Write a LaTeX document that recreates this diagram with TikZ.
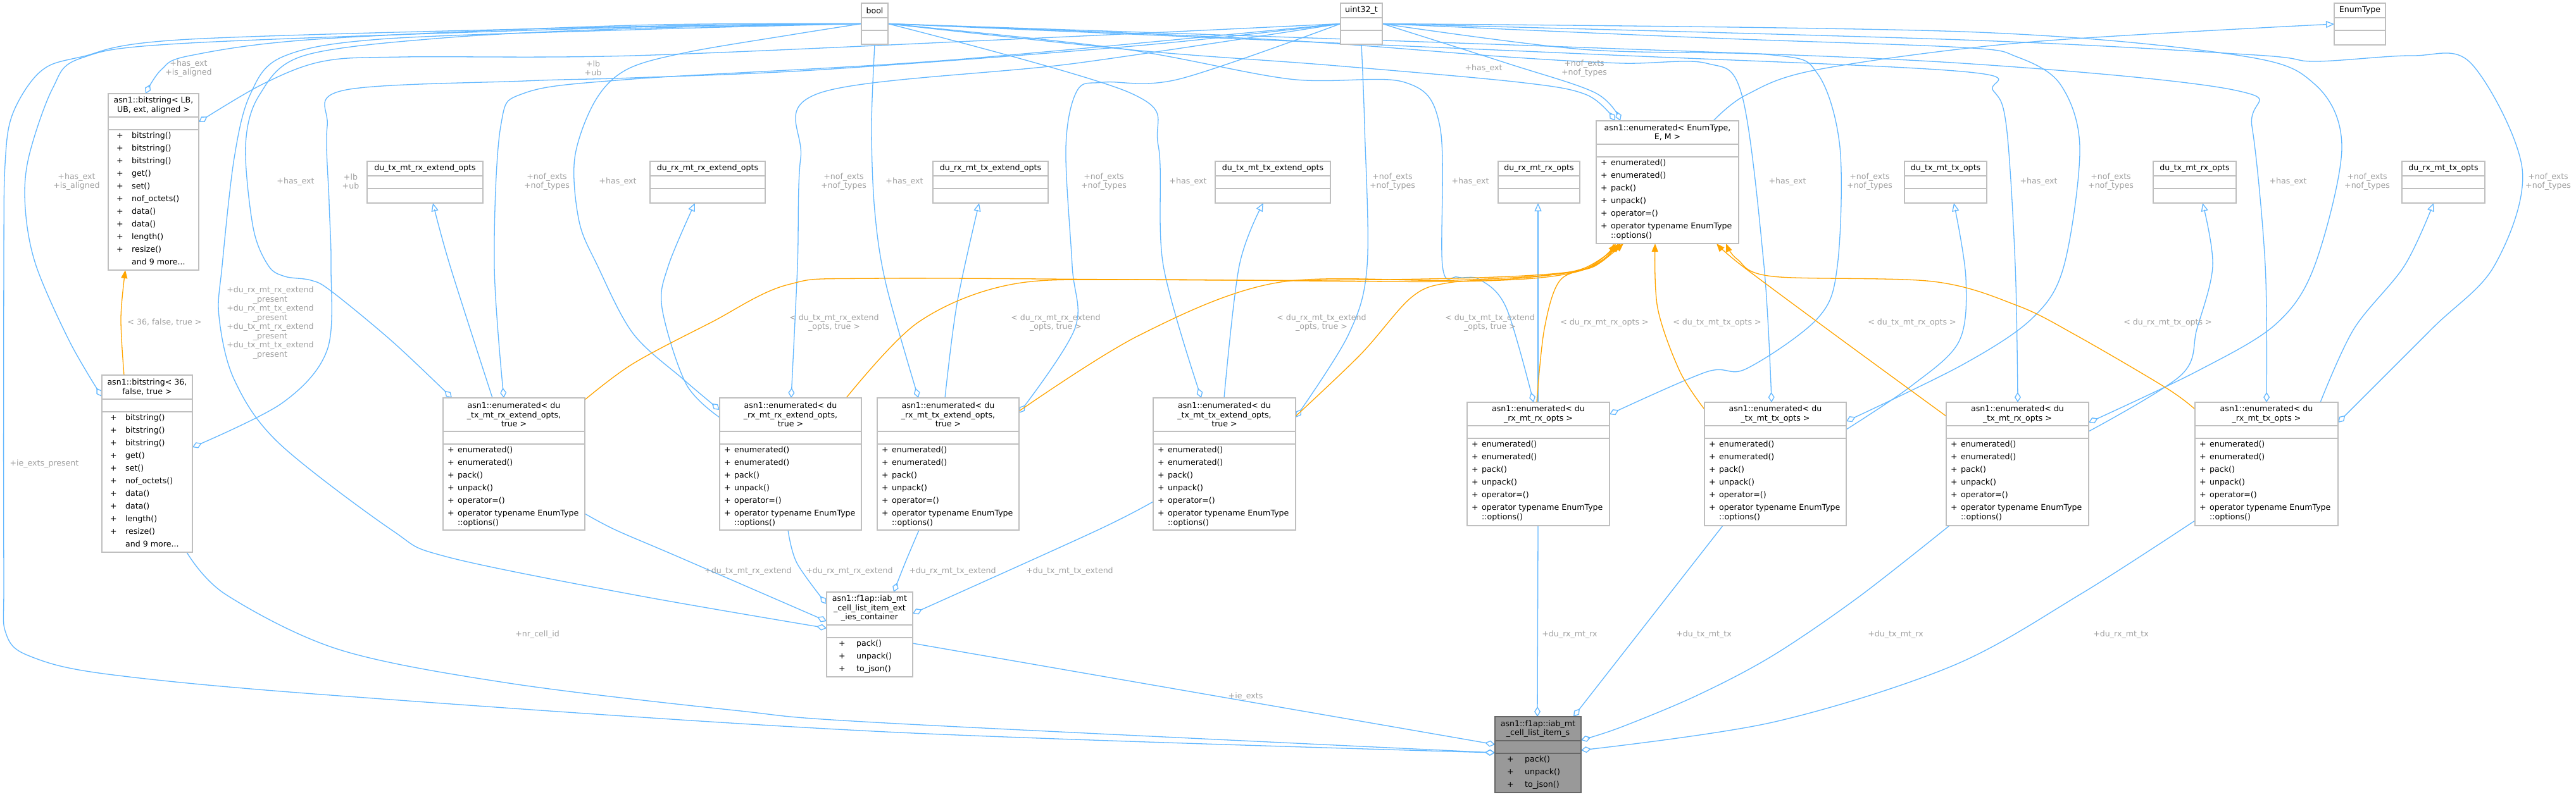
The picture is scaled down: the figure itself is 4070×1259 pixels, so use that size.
\documentclass[tikz,border=0pt]{standalone}
\usepackage{fontspec}
\setmainfont{DejaVu Sans}
\usetikzlibrary{arrows.meta,calc}
\definecolor{eblue}{HTML}{63B8FF}
\definecolor{eorange}{HTML}{FFA500}
\definecolor{lgray}{HTML}{A0A0A0}
\definecolor{bgray}{HTML}{BFBFBF}
\definecolor{dgray}{HTML}{666666}
\definecolor{ngray}{HTML}{999999}
\pgfdeclarelayer{bg}
\pgfsetlayers{bg,main}
\tikzset{
 nbox/.style={draw=bgray, fill=white, line width=1.3pt, inner sep=0pt, outer sep=0pt, rectangle},
 nline/.style={draw=bgray, line width=1.3pt},
 dbox/.style={draw=dgray, fill=ngray, line width=1.3pt, inner sep=0pt, outer sep=0pt, rectangle},
 dline/.style={draw=dgray, line width=1.3pt},
 ttl/.style={align=center, inner sep=0pt, font=\fontsize{12.6pt}{14.5pt}\selectfont},
 mem/.style={align=left, inner sep=0pt, font=\fontsize{12.6pt}{20pt}\selectfont},
 agg/.style={draw=eblue, line width=1.3pt, line join=round, -{Diamond[open, length=16pt, width=10pt]}},
 inh/.style={draw=eblue, line width=1.3pt, line join=round, -{Triangle[open, length=13pt, width=11pt]}},
 tpl/.style={draw=eorange, line width=1.3pt, line join=round, -{Triangle[length=13pt, width=10pt]}},
 lbl/.style={text=lgray, align=center, inner sep=0pt, font=\fontsize{12.6pt}{14.5pt}\selectfont},
 sm/.style={smooth, tension=0.55},
}
\newcommand\plE{\makebox[16pt][l]{+}}
\newcommand\plB{\hspace*{6pt}\makebox[24pt][l]{+}}
\newcommand\plC{\hspace*{12pt}\makebox[28pt][l]{+}}
\newcommand\enummem{\plE enumerated()\\\plE enumerated()\\\plE pack()\\\plE unpack()\\\plE operator=()\\\plE operator typename EnumType\\[-5.5pt]\hspace*{16pt}::options()}
\newcommand\bsmem{\plB bitstring()\\\plB bitstring()\\\plB bitstring()\\\plB get()\\\plB set()\\\plB nof\_octets()\\\plB data()\\\plB data()\\\plB length()\\\plB resize()\\\hspace*{30pt}and 9 more...}
\newcommand\psmem{\plC pack()\\\plC unpack()\\\plC to\_json()}
\newcommand\umlbox[9]{%
  \node[#9box, minimum width=#4pt, minimum height=#6pt, anchor=north west] (#1) at (#2,#3) {};
  \draw[#9line] ([yshift=-#5pt]#1.north west) -- ([yshift=-#5pt]#1.north east);
  \draw[#9line] ([yshift=-#5pt-20pt]#1.north west) -- ([yshift=-#5pt-20pt]#1.north east);
  \node[ttl] (#1-t) at ([yshift=-#5pt/2]#1.north) {#7};
  \node[mem, anchor=north west] (#1-m) at ([xshift=7pt, yshift=-#5pt-24pt]#1.north west) {#8};
}
\begin{document}
\begin{tikzpicture}[x=1pt, y=-1pt]
\useasboundingbox (0,0) rectangle (4070,1259);
% ---------- classes ----------
\umlbox{bool}{1361}{5}{42}{23}{65}{bool}{}{n}
\umlbox{uint}{2118}{5}{66}{23}{65}{uint32\_t}{}{n}
\umlbox{enumtype}{3688}{5}{81}{23}{66}{EnumType}{}{n}
\umlbox{bsLB}{171}{148}{143}{37}{279}{asn1::bitstring< LB,\\UB, ext, aligned >}{\bsmem}{n}
\umlbox{otxrxext}{580}{255}{183}{23}{66}{du\_tx\_mt\_rx\_extend\_opts}{}{n}
\umlbox{orxrxext}{1027}{255}{182}{23}{66}{du\_rx\_mt\_rx\_extend\_opts}{}{n}
\umlbox{orxtxext}{1474}{255}{182}{23}{66}{du\_rx\_mt\_tx\_extend\_opts}{}{n}
\umlbox{otxtxext}{1920}{255}{182}{23}{66}{du\_tx\_mt\_tx\_extend\_opts}{}{n}
\umlbox{orxrx}{2367}{255}{129}{23}{66}{du\_rx\_mt\_rx\_opts}{}{n}
\umlbox{otxtx}{3009}{255}{130}{23}{66}{du\_tx\_mt\_tx\_opts}{}{n}
\umlbox{otxrx}{3402}{255}{131}{23}{66}{du\_tx\_mt\_rx\_opts}{}{n}
\umlbox{orxtx}{3795}{255}{131}{23}{66}{du\_rx\_mt\_tx\_opts}{}{n}
\umlbox{emt}{2522}{191}{225}{37}{194}{asn1::enumerated< EnumType,\\E, M >}{\enummem}{n}
\umlbox{bs36}{161}{593}{143}{38}{280}{asn1::bitstring< 36,\\false, true >}{\bsmem}{n}
\umlbox{etxrxext}{700}{629}{224}{53}{209}{asn1::enumerated< du\\\_tx\_mt\_rx\_extend\_opts,\\true >}{\enummem}{n}
\umlbox{erxrxext}{1137}{629}{224}{53}{209}{asn1::enumerated< du\\\_rx\_mt\_rx\_extend\_opts,\\true >}{\enummem}{n}
\umlbox{erxtxext}{1386}{629}{224}{53}{209}{asn1::enumerated< du\\\_rx\_mt\_tx\_extend\_opts,\\true >}{\enummem}{n}
\umlbox{etxtxext}{1822}{629}{225}{53}{209}{asn1::enumerated< du\\\_tx\_mt\_tx\_extend\_opts,\\true >}{\enummem}{n}
\umlbox{erxrx}{2318}{636}{225}{37}{195}{asn1::enumerated< du\\\_rx\_mt\_rx\_opts >}{\enummem}{n}
\umlbox{etxtx}{2693}{636}{224}{37}{195}{asn1::enumerated< du\\\_tx\_mt\_tx\_opts >}{\enummem}{n}
\umlbox{etxrx}{3075}{636}{225}{37}{195}{asn1::enumerated< du\\\_tx\_mt\_rx\_opts >}{\enummem}{n}
\umlbox{erxtx}{3468}{636}{226}{37}{195}{asn1::enumerated< du\\\_rx\_mt\_tx\_opts >}{\enummem}{n}
\umlbox{cont}{1306}{936}{136}{52}{134}{asn1::f1ap::iab\_mt\\\_cell\_list\_item\_ext\\\_ies\_container}{\psmem}{n}
\umlbox{items}{2362}{1133}{136}{38}{120}{asn1::f1ap::iab\_mt\\\_cell\_list\_item\_s}{\psmem}{d}
% ---------- edges ----------
\begin{pgfonlayer}{bg}
\fill[white] (0,0) rectangle (4070,1259);
% bool members
\draw[agg] plot[sm] coordinates {(bool.west) (1000,40) (500,62) (300,88) (255,110) ([xshift=59pt]bsLB.north west)};
\draw[agg] plot[sm] coordinates {(bool.west) (1000,43) (300,68) (128,92) (83,140) (45,250) (40,330) (57,420) (110,540) ([yshift=-34pt]bs36.north west)};
\draw[agg] plot[sm] coordinates {(bool.west) (1000,42) (300,62) (128,90) (64,113) (20,180) (8,260) (6,420) (6,900) (10,1003) (54,1040) (179,1067) (536,1100) (1400,1157) ([yshift=-57pt]items.north west)};
\draw[agg] plot[sm] coordinates {(bool.west) (1000,47) (600,62) (446,90) (395,150) (370,250) (351,420) (346,500) (370,600) (440,700) (619,838) (705,880) (1000,940) ([yshift=-57pt]cont.north west)};
\draw[agg] plot[sm] coordinates {(bool.west) (1000,45) (700,60) (480,88) (410,150) (388,230) (400,360) (424,420) (450,437) (491,443) (523,460) (620,540) ([xshift=14pt]etxrxext.north west)};
\draw[agg] plot[sm] coordinates {(bool.west) (1250,55) (1084,83) (990,110) (940,160) (908,250) (915,350) (944,420) (1000,527) (1080,600) ([yshift=-19pt]erxrxext.north west)};
\draw[agg] plot[sm] coordinates {(bool.south) (1377,200) (1382,333) (1400,450) ([xshift=65pt]erxtxext.north west)};
\draw[agg] plot[sm] coordinates {(bool.east) (1786,147) (1830,230) (1838,420) ([xshift=76pt]etxtxext.north west)};
\draw[agg] plot[sm] coordinates {(bool.east) (1800,80) (2100,103) (2400,130) (2507,150) ([xshift=30pt]emt.north west)};
\draw[agg] plot[sm] coordinates {(bool.east) (1772,77) (2038,125) (2219,130) (2275,200) (2279,420) (2303,438) (2338,442) (2380,487) ([xshift=105pt]erxrx.north west)};
\draw[agg] plot[sm] coordinates {(bool.east) (2000,62) (2381,90) (2563,100) (2696,100) (2752,150) (2787,420) ([xshift=106pt]etxtx.north west)};
\draw[agg] plot[sm] coordinates {(bool.east) (2500,85) (3100,113) (3149,143) (3170,200) (3184,420) ([xshift=113pt]etxrx.north west)};
\draw[agg] plot[sm] coordinates {(bool.east) (2500,75) (3100,100) (3533,143) (3558,200) (3579,420) ([xshift=113pt]erxtx.north west)};
% uint32 members
\draw[agg] plot[sm] coordinates {(uint.west) (1600,62) (1000,88) (638,90) (510,97) (415,133) ([yshift=-45pt]bsLB.north east)};
\draw[agg] plot[sm] coordinates {(uint.west) (1800,72) (1300,110) (1000,123) (829,128) (542,143) (517,200) (520,320) (523,420) (517,553) (446,637) ([yshift=-114pt]bs36.north east)};
\draw[agg] plot[sm] coordinates {(uint.west) (1500,95) (1000,125) (829,147) (791,200) (781,420) ([xshift=96pt]etxrxext.north west)};
\draw[agg] plot[sm] coordinates {(uint.west) (1700,100) (1295,147) (1265,250) (1260,420) ([xshift=113pt]erxrxext.north west)};
\draw[agg] plot[sm] coordinates {(uint.west) (1863,125) (1744,130) (1702,143) (1684,233) (1694,420) (1698,520) ([yshift=-24pt]erxtxext.north east)};
\draw[agg] plot[sm] coordinates {(uint.south) (2156,200) (2160,420) (2130,530) ([yshift=-31pt]etxtxext.north east)};
\draw[agg] plot[sm] coordinates {(uint.east) (2381,100) (2521,147) ([xshift=38pt]emt.north west)};
\draw[agg] plot[sm] coordinates {(uint.east) (2500,78) (2801,87) (2872,117) (2907,233) (2903,420) (2872,503) (2759,583) (2696,588) ([yshift=-19pt]erxrx.north east)};
\draw[agg] plot[sm] coordinates {(uint.east) (2700,60) (3100,75) (3187,90) (3255,133) (3286,233) (3261,420) (3211,503) (3100,577) ([yshift=-30pt]etxtx.north east)};
\draw[agg] plot[sm] coordinates {(uint.east) (3100,50) (3533,87) (3657,133) (3700,233) (3657,420) (3595,513) (3471,587) ([yshift=-32pt]etxrx.north east)};
\draw[agg] plot[sm] coordinates {(uint.east) (3100,63) (3564,87) (3657,97) (3811,88) (3904,100) (3985,267) (3941,420) (3842,520) ([yshift=-32pt]erxtx.north east)};
% inheritance
\draw[inh] plot[sm] coordinates {([xshift=185pt]emt.north west) (2759,150) (2872,110) (3200,67) (enumtype.west)};
\draw[inh] plot[sm] coordinates {([xshift=78pt]etxrxext.north west) (711,420) ([xshift=104pt]otxrxext.south west)};
\draw[inh] plot[sm] coordinates {([yshift=-31pt]erxrxext.north west) (1084,607) (1046,487) (1056,420) ([xshift=71pt]orxrxext.south west)};
\draw[inh] plot[sm] coordinates {([xshift=107pt]erxtxext.north west) (1512,480) ([xshift=73pt]orxtxext.south west)};
\draw[inh] plot[sm] coordinates {([xshift=112pt]etxtxext.north west) (1958,420) ([xshift=76pt]otxtxext.south west)};
\draw[inh] ([xshift=112pt]erxrx.north west) -- ([xshift=63pt]orxrx.south west);
\draw[inh] plot[sm] coordinates {([yshift=-43pt]etxtx.north east) (3020,610) (3095,540) (3106,440) ([xshift=78pt]otxtx.south west)};
\draw[inh] plot[sm] coordinates {([yshift=-46pt]etxrx.north east) (3446,593) (3471,520) (3496,420) ([xshift=78pt]otxrx.south west)};
\draw[inh] plot[sm] coordinates {([xshift=-28pt]erxtx.north east) (3719,520) (3799,420) ([xshift=50pt]orxtx.south west)};
% template instances
\draw[tpl] plot[sm] coordinates {([xshift=35pt]bs36.north west) (191,503) ([xshift=27pt]bsLB.south west)};
\draw[tpl] plot[sm] coordinates {([yshift=-3pt]etxrxext.north east) (1000,575) (1123,510) (1245,450) (1400,440) (2100,443) (2480,430) ([xshift=27pt]emt.south west)};
\draw[tpl] plot[sm] coordinates {([xshift=200pt]erxrxext.north west) (1450,510) (1596,450) (1800,442) (2300,445) (2490,430) ([xshift=31pt]emt.south west)};
\draw[tpl] plot[sm] coordinates {([yshift=-21pt]erxtxext.north east) (1800,530) (2017,447) (2300,443) (2495,428) ([xshift=35pt]emt.south west)};
\draw[tpl] plot[sm] coordinates {([yshift=-29pt]etxtxext.north east) (2150,560) (2230,470) (2289,447) (2400,440) (2500,425) ([xshift=39pt]emt.south west)};
\draw[tpl] plot[sm] coordinates {([xshift=110pt]erxrx.north west) (2440,520) (2465,443) (2521,420) ([xshift=43pt]emt.south west)};
\draw[tpl] plot[sm] coordinates {([yshift=-11pt]etxtx.north west) (2654,587) (2619,487) ([xshift=93pt]emt.south west)};
\draw[tpl] plot[sm] coordinates {([yshift=-22pt]etxrx.north west) (2900,530) (2752,420) ([xshift=190pt]emt.south west)};
\draw[tpl] plot[sm] coordinates {([yshift=-11pt]erxtx.north west) (3422,613) (3280,530) (3187,483) (3054,445) (2801,437) (2745,410) ([xshift=205pt]emt.south west)};
% container members
\draw[agg] plot[sm] coordinates {([yshift=26pt]etxrxext.south east) (973,838) (1071,880) ([yshift=-46pt]cont.north west)};
\draw[agg] plot[sm] coordinates {([xshift=108pt]erxrxext.south west) (1259,890) ([yshift=-19pt]cont.north west)};
\draw[agg] plot[sm] coordinates {([xshift=66pt]erxtxext.south west) (1430,890) ([xshift=106pt]cont.north west)};
\draw[agg] plot[sm] coordinates {([yshift=45pt]etxtxext.south west) (1730,840) ([yshift=-34pt]cont.north east)};
% item_s members
\draw[agg] ([yshift=-81pt]cont.north east) -- ([yshift=-44pt]items.north west);
\draw[agg] plot[sm] coordinates {([xshift=134pt]bs36.south west) (357,940) (536,1027) (804,1080) (1161,1123) (1400,1143) ([yshift=-57pt]items.north west)};
\draw[agg] ([xshift=112pt]erxrx.south west) -- ([xshift=67pt]items.north west);
\draw[agg] ([xshift=29pt]etxtx.south west) -- ([xshift=124pt]items.north west);
\draw[agg] plot[sm] coordinates {([xshift=5pt]etxrx.south west) (2935,945) (2800,1037) (2680,1100) (2560,1150) ([yshift=-37pt]items.north east)};
\draw[agg] plot[sm] coordinates {([yshift=8pt]erxtx.south west) (3286,940) (3084,1053) (2800,1142) ([yshift=-53pt]items.north east)};
\end{pgfonlayer}
% ---------- labels ----------
\node[lbl] (l01) at (298,108) {+has\_ext\\+is\_aligned};
\node[lbl] (l02) at (121,287) {+has\_ext\\+is\_aligned};
\node[lbl] (l03) at (70,733) {+ie\_exts\_present};
\node[lbl] (l04) at (427,510) {+du\_rx\_mt\_rx\_extend\\\_present\\+du\_rx\_mt\_tx\_extend\\\_present\\+du\_tx\_mt\_rx\_extend\\\_present\\+du\_tx\_mt\_tx\_extend\\\_present};
\node[lbl] (l05) at (467,287) {+has\_ext};
\node[lbl] (l06) at (976,287) {+has\_ext};
\node[lbl] (l07) at (1429,287) {+has\_ext};
\node[lbl] (l08) at (1877,287) {+has\_ext};
\node[lbl] (l09) at (2344,108) {+has\_ext};
\node[lbl] (l10) at (2323,287) {+has\_ext};
\node[lbl] (l11) at (2824,287) {+has\_ext};
\node[lbl] (l12) at (3221,287) {+has\_ext};
\node[lbl] (l13) at (3615,287) {+has\_ext};
\node[lbl] (m01) at (937,108) {+lb\\+ub};
\node[lbl] (m02) at (554,287) {+lb\\+ub};
\node[lbl] (m03) at (864,287) {+nof\_exts\\+nof\_types};
\node[lbl] (m04) at (1333,287) {+nof\_exts\\+nof\_types};
\node[lbl] (m05) at (1744,287) {+nof\_exts\\+nof\_types};
\node[lbl] (m06) at (2200,287) {+nof\_exts\\+nof\_types};
\node[lbl] (m07) at (2503,108) {+nof\_exts\\+nof\_types};
\node[lbl] (m08) at (2954,287) {+nof\_exts\\+nof\_types};
\node[lbl] (m09) at (3335,287) {+nof\_exts\\+nof\_types};
\node[lbl] (m10) at (3740,287) {+nof\_exts\\+nof\_types};
\node[lbl] (m11) at (4026,287) {+nof\_exts\\+nof\_types};
\node[lbl] (t00) at (260,509) {< 36, false, true >};
\node[lbl] (t01) at (1318,510) {< du\_tx\_mt\_rx\_extend\\\_opts, true >};
\node[lbl] (t02) at (1668,510) {< du\_rx\_mt\_rx\_extend\\\_opts, true >};
\node[lbl] (t03) at (2088,510) {< du\_rx\_mt\_tx\_extend\\\_opts, true >};
\node[lbl] (t04) at (2354,510) {< du\_tx\_mt\_tx\_extend\\\_opts, true >};
\node[lbl] (t05) at (2535,510) {< du\_rx\_mt\_rx\_opts >};
\node[lbl] (t06) at (2713,510) {< du\_tx\_mt\_tx\_opts >};
\node[lbl] (t07) at (3021,510) {< du\_tx\_mt\_rx\_opts >};
\node[lbl] (t08) at (3425,510) {< du\_rx\_mt\_tx\_opts >};
\node[lbl] (c01) at (1182,903) {+du\_tx\_mt\_rx\_extend};
\node[lbl] (c02) at (1342,903) {+du\_rx\_mt\_rx\_extend};
\node[lbl] (c03) at (1505,903) {+du\_rx\_mt\_tx\_extend};
\node[lbl] (c04) at (1690,903) {+du\_tx\_mt\_tx\_extend};
\node[lbl] (s01) at (1968,1101) {+ie\_exts};
\node[lbl] (s02) at (849,1003) {+nr\_cell\_id};
\node[lbl] (s04) at (2480,1003) {+du\_rx\_mt\_rx};
\node[lbl] (s05) at (2692,1003) {+du\_tx\_mt\_tx};
\node[lbl] (s06) at (2995,1003) {+du\_tx\_mt\_rx};
\node[lbl] (s07) at (3351,1003) {+du\_rx\_mt\_tx};
\end{tikzpicture}
\end{document}
